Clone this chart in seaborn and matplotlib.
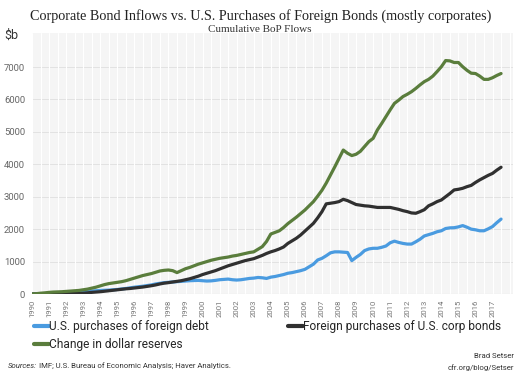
import numpy as np
import pandas as pd
import matplotlib
matplotlib.use("Agg")
import matplotlib.pyplot as plt
import seaborn as sns

# ---------------- data (quarterly, 1990Q1 .. 2017Q3, $ billions, cumulative) ----------------
start_year = 1990
years = list(range(1990, 2018))

us_foreign_debt = [
    0, 5, 10, 15,   20, 25, 30, 35,   40, 50, 55, 60,   70, 80, 90, 100,
    110, 115, 120, 130,   140, 155, 170, 190,   210, 225, 240, 260,   280, 310, 330, 350,
    360, 370, 380, 390,   400, 410, 415, 420,   410, 400, 405, 420,   440, 450, 460, 440,
    430, 440, 460, 480,   490, 510, 500, 480,   520, 540, 570, 600,   640, 660, 690, 720,
    760, 840, 920, 1050,   1100, 1180, 1270, 1300,   1300, 1290, 1280, 1030,   1130, 1220, 1340, 1390,
    1410, 1410, 1440, 1480,   1580, 1630, 1590, 1560,   1540, 1540, 1610, 1690,   1790, 1830, 1870, 1920,
    1950, 2020, 2040, 2045,   2070, 2110, 2060, 2000,   1980, 1950, 1950, 2010,   2080, 2200, 2310,
]
foreign_us_corp = [
    0, 0, 0, 0,   0, 5, 5, 10,   10, 10, 15, 20,   25, 35, 50, 60,
    70, 85, 100, 115,   130, 145, 160, 170,   185, 200, 215, 235,   255, 280, 310, 335,
    350, 370, 390, 410,   440, 470, 510, 550,   600, 640, 680, 720,   770, 820, 870, 910,
    950, 990, 1030, 1060,   1090, 1140, 1190, 1250,   1300, 1340, 1390, 1450,   1560, 1640, 1720, 1820,
    1940, 2060, 2180, 2350,   2540, 2780, 2800, 2820,   2850, 2920, 2880, 2820,   2760, 2740, 2720, 2710,
    2690, 2670, 2670, 2670,   2670, 2640, 2610, 2570,   2540, 2500, 2490, 2540,   2600, 2720, 2780, 2850,
    2900, 3000, 3100, 3210,   3230, 3260, 3310, 3350,   3440, 3520, 3590, 3660,   3720, 3820, 3910,
]
dollar_reserves = [
    0, 10, 25, 35,   50, 60, 65, 70,   80, 90, 100, 110,   130, 150, 180, 210,
    250, 290, 320, 340,   360, 380, 410, 450,   490, 530, 570, 600,   630, 670, 710, 730,
    740, 720, 660, 720,   780, 820, 870, 920,   960, 1000, 1040, 1070,   1100, 1120, 1140, 1170,
    1190, 1220, 1250, 1280,   1300, 1380, 1460, 1620,   1850, 1900, 1950, 2050,   2170, 2270, 2370, 2480,
    2590, 2720, 2850, 3020,   3200, 3420, 3670, 3920,   4180, 4440, 4340, 4270,   4310, 4400, 4550, 4700,
    4800, 5060, 5260, 5470,   5680, 5880, 5980, 6090,   6160, 6240, 6340, 6450,   6550, 6620, 6720, 6860,
    7010, 7200, 7190, 7140,   7140, 7010, 6900, 6810,   6800, 6720, 6620, 6620,   6670, 6740, 6800,
]
y_ticks = [0, 1000, 2000, 3000, 4000, 5000, 6000, 7000]

series_names = ["U.S. purchases of foreign debt",
                "Foreign purchases of U.S. corp bonds",
                "Change in dollar reserves"]
colors = ["#4a9be0", "#303030", "#5a7d3c"]

n = len(us_foreign_debt)
t = start_year + np.arange(n) / 4.0
df = pd.concat([
    pd.DataFrame({"t": t, "value": us_foreign_debt, "series": series_names[0]}),
    pd.DataFrame({"t": t, "value": foreign_us_corp, "series": series_names[1]}),
    pd.DataFrame({"t": t, "value": dollar_reserves, "series": series_names[2]}),
])

# ---------------- figure ----------------
sns.set_theme(style="white")
plt.rcParams["font.family"] = ["Roboto", "DejaVu Sans"]

fig = plt.figure(figsize=(5.2, 3.74), dpi=100)
ax = fig.add_axes([32 / 520, 1 - 294 / 374, (513 - 32) / 520, (294 - 33) / 374])
ax.set_facecolor("#f5f5f5")

sns.lineplot(data=df, x="t", y="value", hue="series", hue_order=series_names,
             palette=colors, linewidth=2.3, legend=False, ax=ax, sort=False)

ax.set_xlim(1990, 2018.2)
ax.set_ylim(0, 8050)
ax.set_yticks(y_ticks)
ax.set_yticklabels([str(v) for v in y_ticks], fontsize=6.8, color="#666666")
ax.set_xticks(years)
ax.set_xticklabels([str(y) for y in years], rotation=90, fontsize=5.6, color="#777777")
ax.tick_params(axis="x", length=0, pad=4)
ax.tick_params(axis="y", length=0, pad=5)
ax.set_xlabel("")
ax.set_ylabel("")

# grid: horizontal grey, vertical white
for v in y_ticks:
    ax.axhline(v, color="#e2e2e2", linewidth=0.7, zorder=0)
for yv in np.arange(1990, 2018.5, 0.5):
    ax.axvline(yv, color="#ffffff", linewidth=0.8, zorder=0)
for s in ax.spines.values():
    s.set_visible(False)
ax.axhline(0, color="#dcdcdc", linewidth=0.8, zorder=0)

# titles
fig.text(0.502, 0.958, "Corporate Bond Inflows vs. U.S. Purchases of Foreign Bonds (mostly corporates)",
         ha="center", va="center", fontsize=10.2, family="Liberation Serif", color="#222222")
fig.text(0.5, 0.921, "Cumulative BoP Flows", ha="center", va="center",
         fontsize=8, family="Liberation Serif", color="#333333")
fig.text(0.008, 0.905, "$b", ha="left", va="center", fontsize=9, color="#333333")

# legend (row-wise order: blue, black / green)
lines = ax.get_lines()[:3]
order = [0, 2, 1]
leg = fig.legend([lines[i] for i in order], [series_names[i] for i in order],
                 loc="upper left", ncol=2, frameon=False, fontsize=8.6,
                 handlelength=1.3, handletextpad=0.0, columnspacing=6.6,
                 labelspacing=0.45, borderaxespad=0, borderpad=0)
leg.set_bbox_to_anchor((0.065, 0.145), transform=fig.transFigure)
for h in leg.legend_handles:
    h.set_linewidth(3)

# footer
fig.canvas.draw()
t1 = fig.text(0.015, 0.022, "Sources:", ha="left", va="center", fontsize=5.6,
              style="italic", color="#333333")
r = fig.canvas.get_renderer()
bb = t1.get_window_extent(renderer=r)
fig.text((bb.x1 + 2) / fig.bbox.width, 0.022,
         "IMF; U.S. Bureau of Economic Analysis; Haver Analytics.",
         ha="left", va="center", fontsize=5.6, color="#333333")
fig.text(0.988, 0.048, "Brad Setser", ha="right", va="center", fontsize=5.6, color="#333333")
fig.text(0.988, 0.016, "cfr.org/blog/Setser", ha="right", va="center", fontsize=5.6, color="#333333")

fig.savefig("out.png", dpi=100)
